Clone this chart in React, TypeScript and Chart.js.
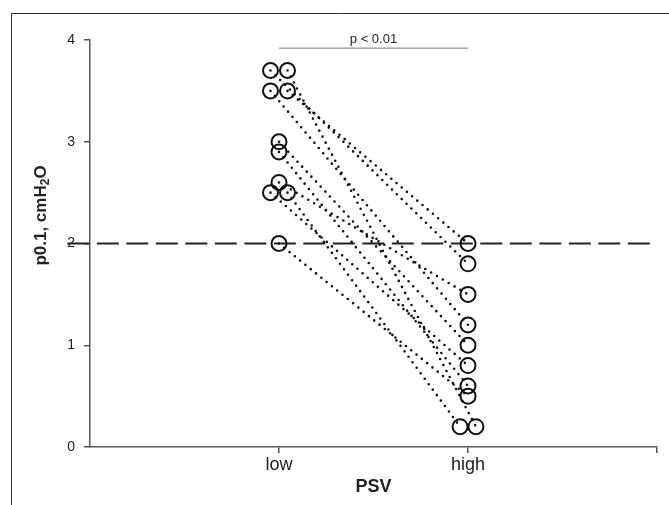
import React, { useEffect, useRef } from 'react';
import { Chart, registerables } from 'chart.js';

Chart.register(...registerables);

// ---- data ----
const categories = ['low', 'high'];
const lowValues = [3.7, 3.7, 3.5, 3.5, 3.0, 2.9, 2.6, 2.5, 2.5, 2.0];
const highValues = [1.8, 0.2, 1.2, 2.0, 1.0, 0.6, 1.5, 0.8, 0.2, 0.5];
// horizontal jitter of each circle around its category (category units)
const lowJitter = [-0.045, 0.045, -0.045, 0.045, 0, 0, 0, -0.045, 0.045, 0];
const highJitter = [0, 0.042, 0, 0, 0, 0, 0, 0, -0.042, 0];
const yTicks = [0, 1, 2, 3, 4];
const thresholdValue = 2;
const significanceLabel = 'p < 0.01';
const bracketValue = 3.92;
const xTitle = 'PSV';
const yTitleMain = 'p0.1, cmH';
const yTitleSub = '2';
const yTitleEnd = 'O';

const FONT = '"Liberation Sans", Arial, Helvetica, sans-serif';

const framePlugin = {
  id: 'frame',
  beforeDraw(chart: any) {
    const ctx = chart.ctx;
    ctx.save();
    ctx.strokeStyle = '#333';
    ctx.lineWidth = 1;
    ctx.beginPath();
    ctx.moveTo(11.5, chart.height);
    ctx.lineTo(11.5, 13.5);
    ctx.lineTo(chart.width, 13.5);
    ctx.stroke();
    ctx.restore();
  },
};

const textPlugin = {
  id: 'texts',
  afterDraw(chart: any) {
    const ctx = chart.ctx;
    const xs = chart.scales.x;
    const ys = chart.scales.y;
    const area = chart.chartArea;
    ctx.save();
    // significance label
    ctx.fillStyle = '#222';
    ctx.font = `13px ${FONT}`;
    ctx.textAlign = 'center';
    ctx.textBaseline = 'bottom';
    const midX = (xs.getPixelForValue(1) + xs.getPixelForValue(2)) / 2;
    ctx.fillText(significanceLabel, midX, ys.getPixelForValue(bracketValue) - 2);

    // x title
    ctx.font = `bold 18px ${FONT}`;
    ctx.textBaseline = 'middle';
    ctx.fillText(xTitle, midX, 487);

    // y title (rotated, with subscript)
    const cy = (area.top + area.bottom) / 2 - 28;
    ctx.translate(41, cy);
    ctx.rotate(-Math.PI / 2);
    ctx.textAlign = 'left';
    ctx.textBaseline = 'middle';
    const mainFont = `bold 17px ${FONT}`;
    const subFont = `bold 12px ${FONT}`;
    ctx.font = mainFont;
    const w1 = ctx.measureText(yTitleMain).width;
    const w3 = ctx.measureText(yTitleEnd).width;
    ctx.font = subFont;
    const w2 = ctx.measureText(yTitleSub).width;
    let x0 = -(w1 + w2 + w3) / 2;
    ctx.font = mainFont;
    ctx.fillText(yTitleMain, x0, 0);
    x0 += w1;
    ctx.font = subFont;
    ctx.fillText(yTitleSub, x0, 5);
    x0 += w2;
    ctx.font = mainFont;
    ctx.fillText(yTitleEnd, x0, 0);
    ctx.restore();
  },
};

export default function App() {
  const ref = useRef<HTMLCanvasElement | null>(null);

  useEffect(() => {
    if (!ref.current) return;
    const subjectSets = lowValues.map((lv, i) => ({
      data: [
        { x: 1 + lowJitter[i], y: lv },
        { x: 2 + highJitter[i], y: highValues[i] },
      ],
      showLine: true,
      borderColor: '#111',
      borderWidth: 2.6,
      borderDash: [0, 6.8],
      borderCapStyle: 'round',
      pointRadius: 7.5,
      pointBorderWidth: 2,
      pointBorderColor: '#111',
      pointBackgroundColor: 'rgba(0,0,0,0)',
      pointStyle: 'circle',
      order: 1,
    }));

    const chart = new Chart(ref.current, {
      type: 'scatter',
      data: {
        datasets: [
          {
            data: [
              { x: -0.12, y: thresholdValue },
              { x: 2.995, y: thresholdValue },
            ],
            showLine: true,
            borderColor: '#222',
            borderWidth: 2,
            borderDash: [22, 7.5],
            pointRadius: 0,
            clip: false,
            order: 3,
          } as any,
          {
            data: [
              { x: 1, y: bracketValue },
              { x: 2, y: bracketValue },
            ],
            showLine: true,
            borderColor: '#777',
            borderWidth: 1,
            pointRadius: 0,
            order: 2,
          },
          ...(subjectSets as any[]),
        ],
      },
      options: {
        responsive: false,
        animation: false,
        events: [],
        layout: { padding: { top: 40, right: 12, left: 0, bottom: 0 } },
        plugins: {
          legend: { display: false },
          tooltip: { enabled: false },
          title: { display: false },
        },
        scales: {
          x: {
            type: 'linear',
            min: 0,
            max: 3,
            afterBuildTicks: (scale: any) => {
              scale.ticks = [{ value: 1 }, { value: 2 }, { value: 3 }];
            },
            afterFit: (scale: any) => {
              scale.height = 58;
            },
            ticks: {
              autoSkip: false,
              maxRotation: 0,
              padding: 1,
              color: '#222',
              font: { family: FONT, size: 18 },
              callback: (v: any) => {
                const idx = Number(v) - 1;
                return categories[idx] ?? '';
              },
            },
            grid: {
              display: true,
              drawOnChartArea: false,
              drawTicks: true,
              tickLength: 6,
              color: '#555',
              lineWidth: 1.5,
            },
            border: { display: true, color: '#555', width: 1.5 },
          },
          y: {
            type: 'linear',
            min: 0,
            max: 4,
            afterBuildTicks: (scale: any) => {
              scale.ticks = yTicks.map((v) => ({ value: v }));
            },
            afterFit: (scale: any) => {
              scale.width = 90;
            },
            ticks: {
              padding: 9,
              color: '#222',
              font: { family: FONT, size: 14 },
            },
            grid: {
              display: true,
              drawOnChartArea: false,
              drawTicks: true,
              tickLength: 6,
              color: '#555',
              lineWidth: 1.5,
            },
            border: { display: true, color: '#555', width: 1.5 },
          },
        },
      },
      plugins: [framePlugin, textPlugin],
    } as any);
    return () => chart.destroy();
  }, []);

  return (
    <div style={{ position: 'absolute', left: 0, top: 0, width: 669, height: 505, background: '#fff' }}>
      <canvas ref={ref} width={669} height={505} style={{ display: 'block' }} />
    </div>
  );
}
